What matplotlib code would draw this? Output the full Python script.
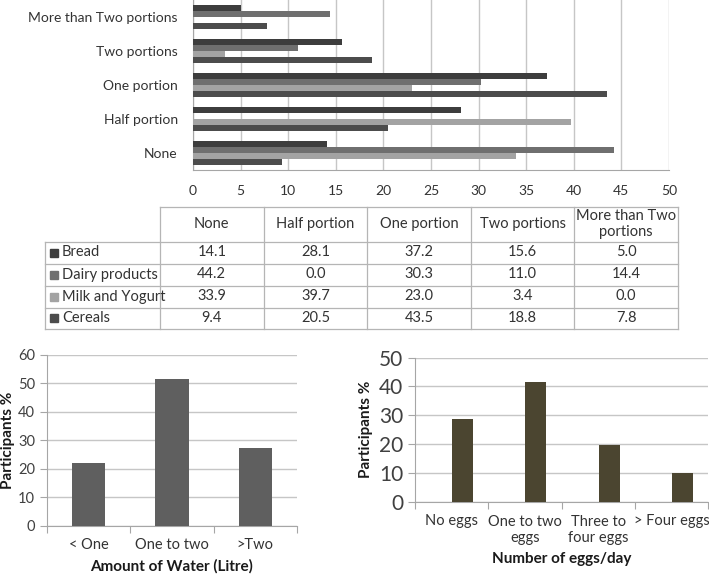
"""Food intake frequency chart with data table, water and egg consumption."""

import matplotlib.pyplot as plt
import numpy as np

plt.rcParams["font.family"] = ["Lato", "DejaVu Sans"]

# --- data -------------------------------------------------------------
portions = ["None", "Half portion", "One portion", "Two portions", "More than Two portions"]
portion_headers = ["None", "Half portion", "One portion", "Two portions", "More than Two\nportions"]
foods = ["Bread", "Dairy products", "Milk and Yogurt", "Cereals"]
bread = [14.1, 28.1, 37.2, 15.6, 5.0]
dairy = [44.2, 0.0, 30.3, 11.0, 14.4]
milk_yogurt = [33.9, 39.7, 23.0, 3.4, 0.0]
cereals = [9.4, 20.5, 43.5, 18.8, 7.8]

water_labels = ["< One", "One to two", ">Two"]
water_values = [22.0, 51.4, 27.2]

egg_labels = ["No eggs", "One to two\neggs", "Three to\nfour eggs", "> Four eggs"]
egg_values = [28.8, 41.5, 19.7, 10.1]

food_colors = ["#3d3d3d", "#6f6f6f", "#a3a3a3", "#4c4c4c"]
grid_color = "#c6c6c6"
text_color = "#333333"

W, H = 709, 575
fig = plt.figure(figsize=(W / 100, H / 100), dpi=100)


def px_axes(left, top, right, bottom):
    return fig.add_axes([left / W, (H - bottom) / H, (right - left) / W, (bottom - top) / H])


# --- top: horizontal grouped bars --------------------------------------
ax = px_axes(193, 0, 669, 170)
series = [bread, dairy, milk_yogurt, cereals]
y = np.arange(len(portions))
bar_h = 0.176
for i, (vals, col) in enumerate(zip(series, food_colors)):
    ax.barh(y + (1.5 - i) * bar_h, vals, height=bar_h, color=col, zorder=3)
ax.set_xlim(0, 50)
ax.set_ylim(-0.5, len(portions) - 0.5)
ax.set_xticks(np.arange(0, 51, 5))
ax.set_yticks(y)
ax.set_yticklabels(portions)
ax.tick_params(axis="both", length=0, labelsize=10, colors=text_color)
ax.tick_params(axis="y", pad=11)
ax.tick_params(axis="x", pad=11)
ax.grid(True, axis="x", color=grid_color, linewidth=1, zorder=0)
for side in ["top", "right"]:
    ax.spines[side].set_visible(False)
for side in ["left", "bottom"]:
    ax.spines[side].set_color("#a6a6a6")

# --- data table --------------------------------------------------------
tab = px_axes(45, 207, 678, 329)
col_edges = [0, 115, 218.6, 322.2, 425.8, 529.4, 633]
row_edges = [0, 34.5, 56.5, 78.5, 100.5, 122]
tab.set_xlim(0, 633)
tab.set_ylim(122, 0)
tab.axis("off")
line_kw = dict(color="#b5b5b5", linewidth=0.9, clip_on=False)
for xe in col_edges:
    top = 0 if xe >= 115 else row_edges[1]
    tab.plot([xe, xe], [top, 122], **line_kw)
for k, ye in enumerate(row_edges):
    left = 115 if k == 0 else 0
    tab.plot([left, 633], [ye, ye], **line_kw)
for j, head in enumerate(portion_headers):
    cx = (col_edges[j + 1] + col_edges[j + 2]) / 2
    tab.text(cx, row_edges[1] / 2, head, ha="center", va="center",
             fontsize=10.5, color=text_color, linespacing=1.2)
for i, (name, vals, col) in enumerate(zip(foods, series, food_colors)):
    cy = (row_edges[i + 1] + row_edges[i + 2]) / 2
    tab.plot([9], [cy], marker="s", markersize=6, color=col, clip_on=False)
    tab.text(17, cy, name, ha="left", va="center", fontsize=10.5, color=text_color)
    for j, v in enumerate(vals):
        cx = (col_edges[j + 1] + col_edges[j + 2]) / 2
        tab.text(cx, cy, f"{v:.1f}", ha="center", va="center",
                 fontsize=10.5, color=text_color)


def style_column_axes(a, n, ymax, step, tick_size):
    a.set_xlim(0, n)
    a.set_ylim(0, ymax)
    a.set_yticks(np.arange(0, ymax + 1, step))
    a.set_xticks(np.arange(n + 1))
    a.set_xticklabels([])
    a.set_xticks(np.arange(n) + 0.5, minor=True)
    a.tick_params(axis="x", which="major", length=5, color="#a6a6a6")
    a.tick_params(axis="x", which="minor", length=0, labelsize=10.5,
                  colors=text_color, pad=9)
    a.tick_params(axis="y", length=5, color="#a6a6a6", labelsize=tick_size,
                  colors="#404040")
    a.grid(True, axis="y", color=grid_color, linewidth=1, zorder=0)
    for side in ["top", "right"]:
        a.spines[side].set_visible(False)
    for side in ["left", "bottom"]:
        a.spines[side].set_color("#a6a6a6")


# --- bottom left: water ------------------------------------------------
axw = px_axes(47, 355, 297, 525.5)
xw = np.arange(len(water_labels)) + 0.5
axw.bar(xw, water_values, width=0.4, color="#5f5f5f", zorder=3)
style_column_axes(axw, len(water_labels), 60, 10, 10.5)
axw.set_xticklabels(water_labels, minor=True)
axw.set_xlabel("Amount of Water (Litre)", fontsize=11, fontweight="bold",
               color="#1a1a1a", labelpad=5)
axw.set_ylabel("Participants %", fontsize=11, fontweight="bold",
               color="#1a1a1a", labelpad=2)

# --- bottom right: eggs ------------------------------------------------
axe = px_axes(415, 357.5, 708, 502)
xe = np.arange(len(egg_labels)) + 0.5
axe.bar(xe + 0.15, egg_values, width=0.286, color="#4b4530", zorder=3)
style_column_axes(axe, len(egg_labels), 50, 10, 15)
axe.set_xticklabels(egg_labels, minor=True, linespacing=1.2)
axe.set_xlabel("Number of eggs/day", fontsize=11, fontweight="bold",
               color="#1a1a1a", labelpad=5)
axe.set_ylabel("Participants %", fontsize=11, fontweight="bold",
               color="#1a1a1a", labelpad=4)

fig.savefig("out.png", dpi=100)
